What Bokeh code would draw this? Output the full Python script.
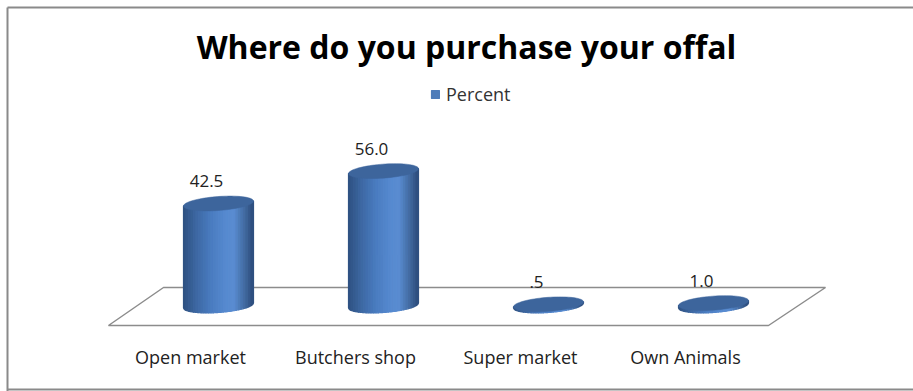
import numpy as np
from bokeh.plotting import figure
from bokeh.models import Range1d, ColumnDataSource, Legend, LegendItem, Label
from bokeh.embed import file_html
from bokeh.resources import INLINE
from bokeh.core.properties import value

# ---------------- data ----------------
title = "Where do you purchase your offal"
categories = ["Open market", "Butchers shop", "Super market", "Own Animals"]
percent = [42.5, 56.0, 0.5, 1.0]
value_labels = ["42.5", "56.0", ".5", "1.0"]
series_name = "Percent"

# ---------------- geometry helpers ----------------
W, H = 913, 391
CX0, CDX = 218.0, 165.0    # pixel x of first category, pixel step between categories
BASE, SCALE = 305.0, 2.4   # pixel y of value 0, pixels per percent


def dxp(px):
    return (px - CX0) / CDX


def dyp(py):
    return (BASE - py) / SCALE


def wpx(w):
    return w / CDX


def hpx(h):
    return h / SCALE


FONT = "Open Sans"

p = figure(width=W, height=H,
           x_range=Range1d(dxp(0), dxp(W)), y_range=Range1d(dyp(H), dyp(0)),
           output_backend="svg", toolbar_location=None,
           x_axis_type=None, y_axis_type=None, min_border=0)
p.outline_line_color = None
p.grid.visible = False
p.background_fill_color = "white"
p.border_fill_color = "white"

# outer chart border
p.multi_line(xs=[[dxp(7), dxp(7)], [dxp(7), dxp(W + 5)], [dxp(7), dxp(W + 5)]],
             ys=[[dyp(7), dyp(H + 5)], [dyp(7), dyp(7)], [dyp(389), dyp(389)]],
             line_color="#8a8a8a", line_width=2)

# floor (3-D base plane)
p.patch(x=[dxp(108), dxp(163), dxp(825), dxp(768)],
        y=[dyp(325), dyp(287), dyp(287), dyp(325)],
        fill_color=None, line_color="#8c8c8c", line_width=1.5)

# ---------------- cylinders ----------------
A = wpx(35)          # half width (data x)
B = hpx(7)           # ellipse half height (data y)
K = hpx(0.07 * 35)   # tilt of the ellipses

stops_u = [-1.0, -0.6, -0.2, 0.2, 0.45, 0.75, 1.0]
stops_c = ["#2d5080", "#3e69a4", "#4a7cc0", "#5689cf", "#5a8dd2", "#446ca3", "#2b4b7a"]
stops_rgb = [tuple(int(c[i:i + 2], 16) for i in (1, 3, 5)) for c in stops_c]


def grad(u):
    r = [np.interp(u, stops_u, [s[k] for s in stops_rgb]) for k in range(3)]
    return "#%02x%02x%02x" % tuple(int(round(x)) for x in r)


NS = 28
edges = np.linspace(-1, 1, NS + 1)
xs_body, ys_body, col_body = [], [], []
xs_top, ys_top = [], []
th = np.linspace(0, 2 * np.pi, 80)
for i, v in enumerate(percent):
    cx = float(i)
    for j in range(NS):
        us = np.linspace(edges[j], edges[j + 1], 4)
        top_x = cx + A * us
        top_y = v + K * us
        bot_x = cx + A * us[::-1]
        bot_y = K * us[::-1] - B * np.sqrt(np.clip(1 - us[::-1] ** 2, 0, 1))
        xs_body.append(list(np.concatenate([top_x, bot_x])))
        ys_body.append(list(np.concatenate([top_y, bot_y])))
        col_body.append(grad(0.5 * (edges[j] + edges[j + 1])))
    xs_top.append(list(cx + A * np.cos(th)))
    ys_top.append(list(v + K * np.cos(th) + B * np.sin(th)))

body = p.patches(xs=xs_body, ys=ys_body, fill_color=col_body, line_color=col_body, line_width=1.2)
p.patches(xs=xs_top, ys=ys_top, fill_color="#3d659c", line_color="#3d659c", line_width=0.5)

# value labels
src_lab = ColumnDataSource(dict(
    x=[i - wpx(12) for i in range(len(percent))],
    y=[v + hpx(16.5) for v in percent],
    t=value_labels))
p.text(x="x", y="y", text="t", source=src_lab, text_align="center", text_baseline="bottom",
       text_font=value(FONT), text_font_size="17px", text_color="#222222")

# category labels
src_cat = ColumnDataSource(dict(
    x=[i - wpx(28) for i in range(len(categories))],
    y=[dyp(356)] * len(categories),
    t=categories))
p.text(x="x", y="y", text="t", source=src_cat, text_align="center", text_baseline="middle",
       text_font=value(FONT), text_font_size="18px", text_color="#222222")

# title
p.add_layout(Label(x=466, y=H - 46, x_units="screen", y_units="screen", text=title,
                   text_align="center", text_baseline="middle", text_font=FONT,
                   text_font_size="32px", text_font_style="bold", text_color="black"))

# legend (uses the strip of the bar body whose shade is the series colour)
target = (0x4f, 0x81, 0xbd)
def _dist(c):
    rgb = tuple(int(c[i:i + 2], 16) for i in (1, 3, 5))
    return sum((a - b) ** 2 for a, b in zip(rgb, target))
leg_idx = min(range(NS), key=lambda k: _dist(col_body[k]))
legend = Legend(items=[LegendItem(label=series_name, renderers=[body], index=leg_idx)],
                location=(430, H - 106), glyph_width=10, glyph_height=10,
                label_height=17, label_standoff=6, padding=0, margin=0,
                border_line_color=None, background_fill_alpha=0,
                label_text_font=FONT, label_text_font_size="18px", label_text_color="#333333")
p.add_layout(legend, "center")

open("out.html", "w").write(file_html(p, INLINE))
